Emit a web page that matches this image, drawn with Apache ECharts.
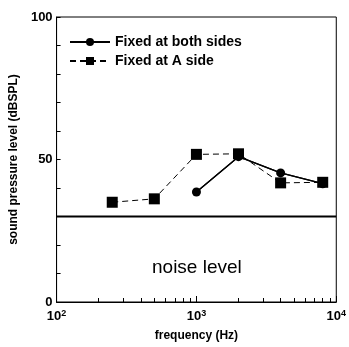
<!DOCTYPE html>
<html><head><meta charset="utf-8">
<script src="https://cdn.jsdelivr.net/npm/echarts@6/dist/echarts.min.js"></script>
<style>html,body{margin:0;padding:0;background:#fff}#c{width:349px;height:347px}</style>
</head><body><div id="c"></div>
<script>
const freqBoth = [1000, 2000, 4000, 8000];
const levelBoth = [38.6, 51, 45.3, 41.5];
const freqA = [250, 500, 1000, 2000, 4000, 8000];
const levelA = [35, 36.2, 51.8, 52, 41.8, 42];
const noiseFreq = [100, 10000];
const noiseLevel = [30, 30];
const xMinorTicks = [200,300,400,500,600,700,800,900,2000,3000,4000,5000,6000,7000,8000,9000];
const yLabels = [0, 50, 100];

const font = 'Liberation Sans, Arial, sans-serif';
const noSplit = {show:true, lineStyle:{color:'rgba(0,0,0,0)'}};
const chart = echarts.init(document.getElementById('c'));
chart.setOption({
  animation:false,
  grid:{left:52, right:10, top:17, bottom:40, show:true, borderColor:'#000', borderWidth:1, backgroundColor:'transparent'},
  legend:{
    left:64, top:30, orient:'vertical', itemWidth:40, itemHeight:10, itemGap:5,
    textStyle:{fontFamily:font, fontSize:14, fontWeight:'bold', color:'#000'},
    data:['Fixed at both sides','Fixed at A side']
  },
  xAxis:[
    {type:'log', logBase:10, min:100, max:10000, splitLine:noSplit,
      axisLine:{show:true, lineStyle:{color:'#000'}},
      name:'frequency (Hz)', nameLocation:'middle', nameGap:28,
      nameTextStyle:{fontFamily:font, fontSize:12, fontWeight:'bold', color:'#000'},
      axisTick:{show:true, inside:true, length:6, lineStyle:{color:'#000', width:1}},
      axisLabel:{show:true, margin:7,
        formatter:v=>'10{s|'+Math.round(Math.log10(v))+'}',
        rich:{s:{fontSize:9, fontWeight:'bold', fontFamily:font, color:'#000', verticalAlign:'top', padding:[0,0,6,0]}},
        fontFamily:font, fontSize:13, fontWeight:'bold', color:'#000'}},
    {type:'log', logBase:10, min:100, max:10000, position:'bottom', splitLine:{show:false},
      axisLine:{show:false, onZero:false},
      axisTick:{show:true, inside:true, length:4, customValues:xMinorTicks, lineStyle:{color:'#000', width:1}},
      axisLabel:{show:false}}
  ],
  yAxis:[
    {type:'value', min:0, max:100, interval:10, splitLine:noSplit,
      axisLine:{show:true, lineStyle:{color:'#000'}},
      name:'sound pressure level (dBSPL)', nameLocation:'middle', nameGap:33,
      nameTextStyle:{fontFamily:font, fontSize:12, fontWeight:'bold', color:'#000'},
      axisTick:{show:true, inside:true, length:4, lineStyle:{color:'#000', width:1}},
      axisLabel:{show:true, margin:4,
        formatter:v=>yLabels.indexOf(v)>=0 ? String(v) : '',
        fontFamily:font, fontSize:13, fontWeight:'bold', color:'#000'}}
  ],
  graphic:[{type:'text', left:152, top:258, style:{text:'noise level', fill:'#000',
    font:'19px '+font}}],
  series:[
    {name:'Fixed at both sides', type:'line',
      data:freqBoth.map((f,i)=>[f, levelBoth[i]]),
      symbol:'circle', symbolSize:9, itemStyle:{color:'#000'},
      lineStyle:{color:'#000', width:1.3}},
    {name:'Fixed at A side', type:'line',
      data:freqA.map((f,i)=>[f, levelA[i]]),
      symbol:'rect', symbolSize:11, itemStyle:{color:'#000'},
      lineStyle:{color:'#000', width:1, type:[6,4]}},
    {name:'both-line', type:'line', silent:true,
      data:freqBoth.map((f,i)=>[f, levelBoth[i]]),
      symbol:'none', lineStyle:{color:'#000', width:1.3}},
    {name:'noise', type:'line', silent:true,
      data:noiseFreq.map((f,i)=>[f, noiseLevel[i]]),
      symbol:'none', lineStyle:{color:'#000', width:2}}
  ]
});
</script></body></html>
